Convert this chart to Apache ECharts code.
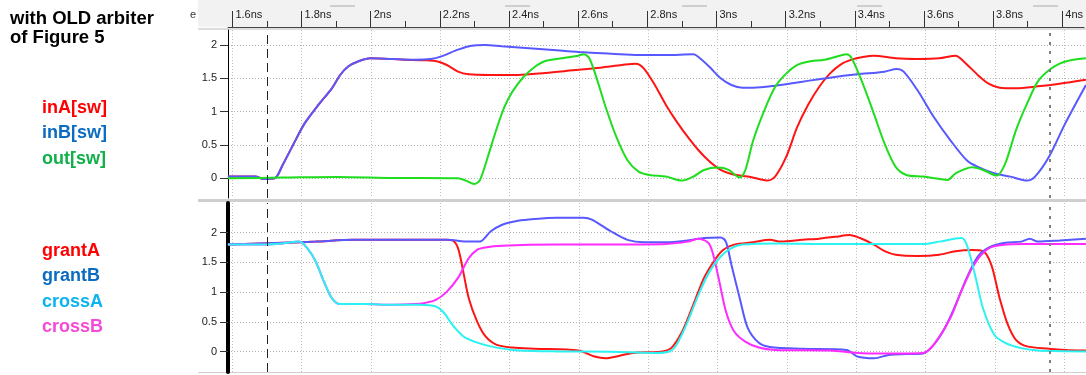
<!DOCTYPE html>
<html>
<head>
<meta charset="utf-8">
<script src="https://cdn.jsdelivr.net/npm/echarts@6/dist/echarts.min.js"></script>
<style>
  html, body { margin: 0; padding: 0; background: #ffffff; }
  #chart { width: 1086px; height: 375px; }
</style>
</head>
<body>
<div id="chart"></div>
<script>
// ---- time axis (ns) ----
const timeRange = [1.5873, 4.0632];
const timeMajor = [1.6, 1.8, 2, 2.2, 2.4, 2.6, 2.8, 3, 3.2, 3.4, 3.6, 3.8, 4];
const timeMinor = [1.7, 1.9, 2.1, 2.3, 2.5, 2.7, 2.9, 3.1, 3.3, 3.5, 3.7, 3.9];
const cursorTimes = [1.7, 3.96];

// ---- voltage axes (V) ----
const voltTicks = [0, 0.5, 1, 1.5, 2];
const topRange = [-0.296, 2.225];
const bottomRange = [-0.341, 2.499];

// ---- titles / labels ----
const titleText = 'with OLD arbiter\nof Figure 5';
const topNames = ['inA[sw]', 'inB[sw]', 'out[sw]'];
const bottomNames = ['grantA', 'grantB', 'crossA', 'crossB'];

// ---- upper panel waveforms [t (ns), V] ----
const inA = [[1.587,0.025],[1.666,0.025],[1.690,-0.01],[1.722,0],[1.745,0.2],[1.777,0.52],[1.808,0.82],[1.848,1.1],[1.887,1.35],[1.911,1.55],[1.935,1.68],[1.966,1.76],[1.998,1.8],[2.061,1.79],[2.093,1.78],[2.156,1.77],[2.195,1.75],[2.219,1.7],[2.251,1.6],[2.282,1.56],[2.345,1.55],[2.424,1.55],[2.503,1.58],[2.582,1.62],[2.661,1.66],[2.724,1.7],[2.764,1.72],[2.787,1.65],[2.819,1.4],[2.851,1.1],[2.882,0.85],[2.914,0.62],[2.945,0.42],[2.977,0.25],[3.009,0.125],[3.040,0.065],[3.087,0.025],[3.119,-0.01],[3.143,-0.035],[3.166,0.025],[3.198,0.32],[3.230,0.77],[3.261,1.1],[3.293,1.37],[3.324,1.57],[3.356,1.71],[3.387,1.78],[3.419,1.82],[3.451,1.84],[3.514,1.8],[3.577,1.79],[3.640,1.8],[3.687,1.84],[3.711,1.75],[3.751,1.55],[3.782,1.42],[3.814,1.36],[3.861,1.35],[3.924,1.38],[3.987,1.42],[4.063,1.48]];
const inB = [[1.587,0.025],[1.666,0.025],[1.690,-0.01],[1.722,0],[1.745,0.2],[1.777,0.52],[1.808,0.82],[1.848,1.1],[1.887,1.35],[1.911,1.55],[1.935,1.68],[1.966,1.76],[1.998,1.8],[2.061,1.79],[2.124,1.78],[2.172,1.79],[2.203,1.83],[2.251,1.93],[2.290,1.99],[2.330,2.0],[2.377,1.98],[2.456,1.95],[2.535,1.92],[2.614,1.89],[2.693,1.87],[2.772,1.85],[2.851,1.85],[2.930,1.86],[2.945,1.82],[2.977,1.67],[3.009,1.5],[3.040,1.4],[3.072,1.36],[3.103,1.36],[3.166,1.39],[3.245,1.45],[3.324,1.51],[3.403,1.56],[3.482,1.6],[3.517,1.64],[3.537,1.6],[3.577,1.32],[3.624,0.92],[3.672,0.57],[3.719,0.27],[3.751,0.17],[3.798,0.075],[3.845,0.025],[3.893,-0.035],[3.916,0.025],[3.956,0.32],[4.003,0.82],[4.063,1.4]];
const out = [[1.587,0],[1.745,0.01],[1.903,0.02],[2.061,0.005],[2.251,0],[2.274,-0.035],[2.298,-0.085],[2.314,-0.03],[2.337,0.32],[2.361,0.72],[2.385,1.07],[2.408,1.3],[2.440,1.52],[2.472,1.67],[2.503,1.76],[2.551,1.8],[2.598,1.84],[2.614,1.86],[2.630,1.8],[2.653,1.47],[2.677,1.07],[2.708,0.62],[2.740,0.27],[2.772,0.1],[2.803,0.05],[2.851,0.025],[2.898,-0.035],[2.930,0.025],[2.961,0.125],[3.001,0.16],[3.032,0.125],[3.064,0.01],[3.080,0.12],[3.103,0.57],[3.135,1.02],[3.166,1.37],[3.198,1.57],[3.230,1.7],[3.261,1.75],[3.309,1.78],[3.340,1.82],[3.372,1.86],[3.387,1.8],[3.419,1.42],[3.451,0.97],[3.482,0.52],[3.514,0.17],[3.545,0.05],[3.593,0.025],[3.640,-0.01],[3.664,-0.025],[3.687,0.075],[3.735,0.165],[3.766,0.125],[3.806,0.04],[3.830,0.22],[3.861,0.72],[3.893,1.12],[3.924,1.45],[3.956,1.62],[3.987,1.72],[4.019,1.77],[4.063,1.8]];

// ---- lower panel waveforms [t (ns), V] ----
const grantA = [[1.587,1.8],[1.793,1.84],[1.840,1.85],[1.951,1.88],[2.219,1.88],[2.235,1.87],[2.251,1.74],[2.266,1.35],[2.282,0.9],[2.306,0.51],[2.330,0.26],[2.361,0.12],[2.408,0.07],[2.472,0.05],[2.598,0.02],[2.645,-0.08],[2.677,-0.11],[2.708,-0.08],[2.756,-0.02],[2.835,0],[2.866,0.06],[2.898,0.34],[2.930,0.79],[2.961,1.24],[2.993,1.55],[3.016,1.71],[3.048,1.8],[3.103,1.84],[3.151,1.88],[3.182,1.85],[3.245,1.88],[3.293,1.9],[3.340,1.93],[3.380,1.96],[3.411,1.91],[3.451,1.8],[3.482,1.69],[3.514,1.63],[3.577,1.61],[3.640,1.63],[3.687,1.69],[3.735,1.71],[3.766,1.69],[3.790,1.46],[3.814,0.9],[3.838,0.45],[3.861,0.2],[3.893,0.09],[3.956,0.05],[4.003,0.03],[4.063,0.02]];
const grantB = [[1.587,1.8],[1.793,1.84],[1.840,1.85],[1.951,1.88],[2.219,1.88],[2.282,1.85],[2.314,1.85],[2.345,2.02],[2.377,2.13],[2.424,2.2],[2.472,2.23],[2.535,2.25],[2.614,2.25],[2.637,2.22],[2.693,2.02],[2.740,1.88],[2.787,1.84],[2.851,1.84],[2.914,1.87],[2.961,1.91],[3.009,1.92],[3.024,1.85],[3.040,1.46],[3.064,0.9],[3.087,0.4],[3.119,0.15],[3.151,0.08],[3.245,0.05],[3.372,0.03],[3.403,-0.08],[3.451,-0.11],[3.498,-0.05],[3.545,-0.04],[3.593,-0.03],[3.624,0.12],[3.656,0.4],[3.687,0.79],[3.719,1.24],[3.751,1.6],[3.782,1.75],[3.830,1.83],[3.877,1.85],[3.901,1.9],[3.924,1.85],[3.987,1.87],[4.063,1.9]];
const crossA = [[1.587,1.8],[1.682,1.8],[1.745,1.82],[1.793,1.85],[1.816,1.74],[1.840,1.52],[1.864,1.18],[1.887,0.9],[1.911,0.8],[1.982,0.8],[2.061,0.79],[2.140,0.79],[2.187,0.76],[2.211,0.65],[2.235,0.45],[2.266,0.26],[2.298,0.17],[2.345,0.09],[2.408,0.03],[2.535,0.005],[2.693,0],[2.819,-0.02],[2.859,0],[2.882,0.12],[2.914,0.51],[2.945,0.96],[2.977,1.35],[3.009,1.6],[3.040,1.74],[3.072,1.8],[3.166,1.82],[3.324,1.81],[3.593,1.81],[3.640,1.85],[3.703,1.91],[3.719,1.8],[3.743,1.29],[3.766,0.73],[3.798,0.29],[3.830,0.15],[3.877,0.06],[3.924,0.02],[4.063,0.005]];
const crossB = [[1.587,1.8],[1.682,1.8],[1.745,1.82],[1.793,1.85],[1.816,1.74],[1.840,1.52],[1.864,1.18],[1.887,0.9],[1.911,0.8],[1.982,0.8],[2.061,0.79],[2.124,0.8],[2.156,0.82],[2.187,0.87],[2.219,1.01],[2.251,1.24],[2.282,1.57],[2.306,1.71],[2.330,1.75],[2.377,1.78],[2.535,1.8],[2.693,1.8],[2.851,1.81],[2.914,1.85],[2.945,1.9],[2.977,1.8],[3.001,1.29],[3.024,0.68],[3.048,0.34],[3.080,0.17],[3.119,0.07],[3.166,0.03],[3.324,0.02],[3.403,-0.02],[3.482,-0.03],[3.593,-0.02],[3.624,0.12],[3.672,0.57],[3.703,1.01],[3.735,1.41],[3.766,1.66],[3.798,1.77],[3.877,1.81],[4.063,1.81]];

// ---- styling ----
const FONT = '"Liberation Sans", Arial, sans-serif';
const traceColors = {
  'inA[sw]': '#ff1414', 'inB[sw]': '#5858ff', 'out[sw]': '#1fdd1f',
  'grantA': '#ff1414', 'grantB': '#5858ff', 'crossA': '#2af2f2', 'crossB': '#ff2bff'
};
const labelColors = {
  'inA[sw]': '#ff0000', 'inB[sw]': '#0a6cc2', 'out[sw]': '#10b048',
  'grantA': '#ff0000', 'grantB': '#0a6cc2', 'crossA': '#0ab4ee', 'crossB': '#f44ad6'
};

const chart = echarts.init(document.getElementById('chart'), null, { renderer: 'canvas' });

function trace(name, data, panel) {
  return {
    type: 'line', name: name, data: data,
    xAxisIndex: panel + 1, yAxisIndex: panel,
    showSymbol: false, smooth: 0.3, animation: false, silent: true,
    lineStyle: { color: traceColors[name], width: 2 },
    itemStyle: { color: traceColors[name] }
  };
}

function cursors() {
  return {
    silent: true, symbol: ['none', 'none'], label: { show: false }, animation: false,
    data: [
      { xAxis: cursorTimes[0], lineStyle: { color: '#222', width: 1, type: [9, 5] } },
      { xAxis: cursorTimes[1], lineStyle: { color: '#808080', width: 2, type: [3, 6] } }
    ]
  };
}

function plotX(gridIndex) {
  return {
    gridIndex: gridIndex, type: 'value', min: timeRange[0], max: timeRange[1],
    axisLine: { show: false },
    axisTick: { show: false, customValues: timeMajor },
    axisLabel: { show: false },
    splitLine: { show: true, lineStyle: { color: '#bdbdbd', type: [1, 2], width: 1 } }
  };
}

function plotY(gridIndex, range, lineWidth) {
  return {
    gridIndex: gridIndex, type: 'value', min: range[0], max: range[1],
    axisLine: { show: true, onZero: false, lineStyle: { color: '#000', width: lineWidth } },
    axisTick: { show: true, length: 8, customValues: voltTicks, lineStyle: { color: '#333' } },
    axisLabel: { show: true, customValues: voltTicks, margin: 11, color: '#222', fontSize: 11, fontFamily: FONT },
    splitLine: { show: true, lineStyle: { color: '#b4b4b4', type: [1, 2], width: 1 } }
  };
}

function legendFor(names, top) {
  return {
    orient: 'vertical', left: 37, top: top, itemGap: 5.5, padding: 0,
    icon: 'none', itemWidth: 0, itemHeight: 14, selectedMode: false,
    data: names.map(n => ({ name: n, textStyle: { color: labelColors[n] } })),
    textStyle: { fontSize: 18, fontWeight: 'bold', fontFamily: FONT, lineHeight: 20 }
  };
}

const option = {
  backgroundColor: '#ffffff',
  animation: false,
  title: {
    text: titleText, left: 10, top: 9, padding: 0,
    textStyle: { fontSize: 18.5, fontWeight: 'bold', color: '#000', fontFamily: FONT, lineHeight: 19 }
  },
  legend: [legendFor(topNames, 98), legendFor(bottomNames, 241)],
  graphic: [
    { type: 'rect', z: -10, shape: { x: 198, y: 0, width: 888, height: 27 }, style: { fill: '#f2f2f2' } },
    { type: 'rect', z: -10, shape: { x: 198, y: 28, width: 888, height: 2 }, style: { fill: '#dddddd' } },
    { type: 'rect', z: -10, shape: { x: 198, y: 199, width: 888, height: 3 }, style: { fill: '#cfcfcf' } },
    { type: 'rect', z: -10, shape: { x: 198, y: 372, width: 888, height: 1 }, style: { fill: '#cfcfcf' } },
    { type: 'text', left: 190, top: 9, style: { text: 'e', fill: '#333', font: '11px ' + FONT } },
    { type: 'line', shape: { x1: 330, y1: 6, x2: 355, y2: 6 }, style: { stroke: '#aaa', lineWidth: 1 } },
    { type: 'line', shape: { x1: 505, y1: 6, x2: 530, y2: 6 }, style: { stroke: '#aaa', lineWidth: 1 } },
    { type: 'line', shape: { x1: 682, y1: 6, x2: 707, y2: 6 }, style: { stroke: '#aaa', lineWidth: 1 } },
    { type: 'line', shape: { x1: 857, y1: 6, x2: 882, y2: 6 }, style: { stroke: '#aaa', lineWidth: 1 } },
    { type: 'line', shape: { x1: 1033, y1: 6, x2: 1058, y2: 6 }, style: { stroke: '#aaa', lineWidth: 1 } }
  ],
  grid: [
    { left: 228, right: 0, top: 0, height: 27 },
    { left: 228, right: 0, top: 30, height: 168 },
    { left: 228, right: 0, top: 203, height: 169 }
  ],
  xAxis: [
    {
      gridIndex: 0, type: 'value', min: timeRange[0], max: timeRange[1], position: 'bottom',
      axisLine: { show: true, lineStyle: { color: '#444', width: 1 } },
      axisTick: { show: true, inside: true, length: 16, customValues: timeMajor, lineStyle: { color: '#333' } },
      axisLabel: {
        show: true, inside: true, customValues: timeMajor, formatter: v => v + 'ns',
        align: 'left', verticalAlign: 'middle', margin: 12, padding: [0, 0, 0, 3],
        color: '#222', fontSize: 11, fontFamily: FONT
      },
      splitLine: { show: false }
    },
    {
      gridIndex: 0, type: 'value', min: timeRange[0], max: timeRange[1], position: 'bottom',
      axisLine: { show: false },
      axisTick: { show: true, inside: true, length: 6, customValues: timeMinor, lineStyle: { color: '#333' } },
      axisLabel: { show: false },
      splitLine: { show: false }
    },
    plotX(1),
    plotX(2)
  ],
  yAxis: [
    { gridIndex: 0, type: 'value', min: 0, max: 1, show: false },
    plotY(1, topRange, 1),
    plotY(2, bottomRange, 4)
  ],
  series: [
    trace('inA[sw]', inA, 1),
    trace('inB[sw]', inB, 1),
    Object.assign(trace('out[sw]', out, 1), { markLine: cursors() }),
    trace('grantA', grantA, 2),
    trace('grantB', grantB, 2),
    trace('crossB', crossB, 2),
    Object.assign(trace('crossA', crossA, 2), { markLine: cursors() })
  ]
};

chart.setOption(option);
</script>
</body>
</html>
